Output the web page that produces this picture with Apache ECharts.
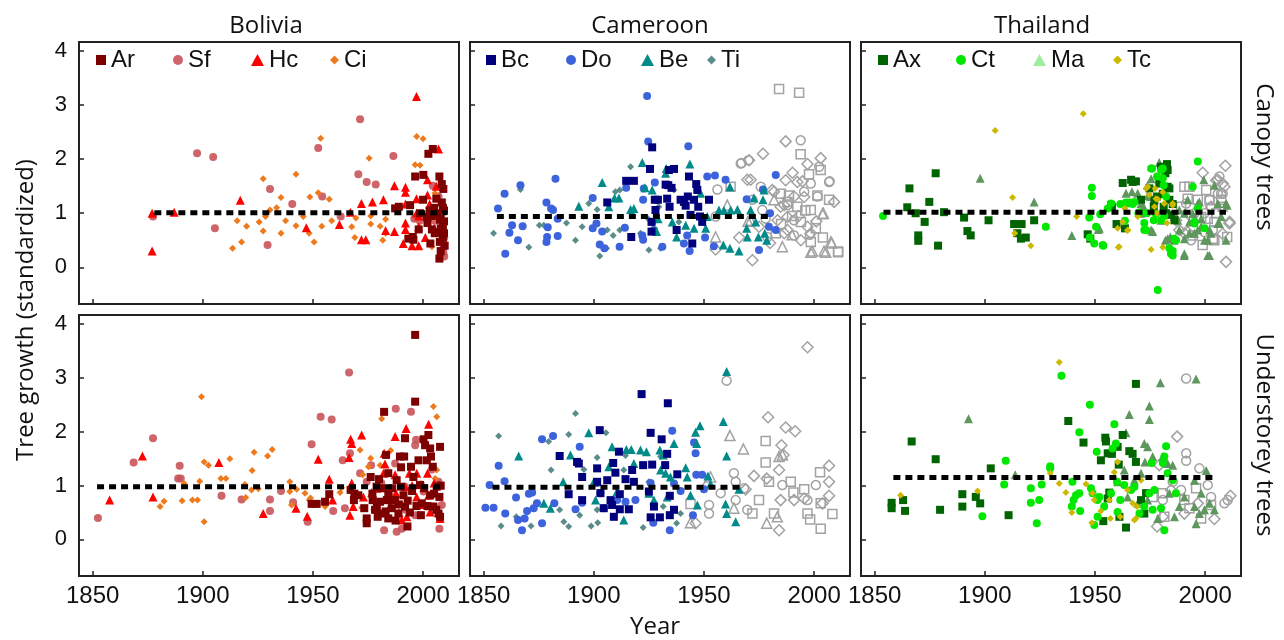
<!DOCTYPE html>
<html>
<head>
<meta charset="utf-8">
<script src="https://cdn.jsdelivr.net/npm/echarts@6/dist/echarts.min.js"></script>
<style>
html, body {margin: 0; padding: 0; background: #fff;}
#main {width: 1284px; height: 640px;}
</style>
</head>
<body>
<div id="main"></div>
<script>
// panel layout: 3 sites (columns) x 2 tree classes (rows)
const sites = ['Bolivia', 'Cameroon', 'Thailand'];
const rows = ['Canopy trees', 'Understorey trees'];
const yearTicks = [1850, 1900, 1950, 2000];
const growthTicks = [0, 1, 2, 3, 4];

// ---- Bolivia, canopy ----
const bolCanAr = [[1996.4,1.68],[2000.1,1.71],[2002.4,2.10],[2004.4,2.19],[2007.4,1.68],[2008.5,1.54],[2009.2,1.45],[1987.3,1.09],[1994.1,1.15],[2000,1.25],[1995.6,0.51],[1993.3,0.53],[2004,0.70],[2003.3,0.44],[2007.4,0.16],[2009,0.77],[2009,1.10],[2007.7,0.88],[1998.6,1.0],[2001.7,0.93],[2005.3,0.63],[1998,0.70],[2007.6,0.47],[2009.5,0.63],[1989,1.12],[2003,1.05],[2006,1.27],[2009.5,1.05],[2008,0.30],[2002,0.82],[1995.3,0.56],[2008,0.9],[2009.5,0.85],[2008.5,1.2],[2006.5,1.0],[2009,0.55],[2007,0.65],[2005,1.1],[2004,0.95],[2008,0.72],[2009.8,0.4]];
const bolCanSf = [[1877.4,0.94],[1897.4,2.11],[1904.7,2.04],[1905.5,0.72],[1930.5,1.45],[1929.4,0.41],[1940.6,1.17],[1952.4,2.21],[1954.2,1.31],[1971.4,2.74],[1970.6,1.72],[1974.4,1.58],[1978.5,1.53],[1986.5,2.06],[1962.6,0.94],[2004.4,1.51],[2005.4,0.86],[2009.2,0.45],[2009.2,0.27],[2009.2,0.35],[2007,1.31],[1998.5,0.86],[1996,0.9],[2009.6,0.55],[2009.6,0.20],[2008.8,0.66]];
const bolCanHc = [[1877,1.0],[1877,0.30],[1887,1.02],[1917,1.24],[1947,0.73],[1962,0.79],[1967,1.02],[1972,1.18],[1972,0.51],[1974,0.51],[1977,1.21],[1982,1.25],[1983,0.68],[1987,1.51],[1987,0.66],[1992,1.48],[1992,1.39],[1992,1.17],[1992,0.82],[1992,0.70],[1991,0.44],[1995,0.40],[1997,3.16],[1997,1.27],[1997,1.0],[1998,0.40],[1998,0.75],[1998,0.95],[2002,1.62],[2002,1.34],[2003,1.17],[2007,2.19],[2006,1.50],[2005,0.72],[2001,0.55]];
const bolCanCi = [[1913.5,0.35],[1917.6,0.47],[1915.6,0.86],[1919.9,0.76],[1925.6,0.84],[1927.4,1.64],[1927.4,0.67],[1928.5,0.94],[1930.5,1.06],[1933.5,1.10],[1935.5,1.29],[1935.5,0.63],[1937.6,0.86],[1942.3,1.72],[1942.3,0.77],[1945.6,0.94],[1948.6,1.30],[1948.3,0.63],[1950.5,0.47],[1952.4,1.38],[1953.5,2.39],[1954,0.76],[1957.4,1.26],[1958.5,0.86],[1967.6,0.75],[1969,0.55],[1969.5,0.91],[1975.5,2.02],[1976.2,0.80],[1976.2,0.95],[1980.5,0.76],[1981.7,0.50],[1983,0.89],[1983,0.63],[1996.4,1.90],[1998.6,1.89],[1997.1,2.42],[2000,2.38],[2005.4,1.37],[2006.3,1.30],[2004,0.38],[2003.3,0.88]];
const bolCanMean = [[1878,1.01],[2011,1.01]];

// ---- Bolivia, understorey ----
const bolUndAr = [[1949.4,0.66],[1951.7,0.66],[1955.5,0.70],[1957.4,0.84],[1967.1,0.92],[1968.6,0.73],[1968.8,0.85],[1970.6,0.82],[1974.4,0.39],[1974.4,0.30],[1973.3,0.58],[1976.2,1.16],[1977.1,0.73],[1978.2,0.55],[1978.9,0.98],[1979.4,0.42],[1980.5,0.70],[1981.2,0.48],[1982.3,2.37],[1983.2,1.57],[1983.5,0.73],[1984.2,1.23],[1984.2,0.86],[1984.2,0.39],[1985.8,0.58],[1985,0.73],[1987.3,0.73],[1988.8,0.48],[1989.5,1.54],[1990,1.34],[1991.4,1.54],[1991.8,1.88],[1991.1,0.82],[1991.8,0.61],[1992.9,0.24],[1994.5,1.35],[1995.6,1.16],[1996.4,2.56],[1996.4,3.80],[1997.9,1.47],[1998.6,1.01],[1999.4,0.67],[2000.2,1.86],[2000.9,1.75],[2001.7,1.47],[2002.4,1.94],[2003.2,1.69],[2003.6,1.54],[2004.4,1.35],[2003.2,0.82],[2004.7,0.61],[2006.2,0.98],[2007,0.48],[2007.7,1.72],[2007.4,0.79],[2007.7,0.42],[1977,0.85],[1979,0.62],[1981,0.95],[1983,0.52],[1986,0.95],[1987.5,0.35],[1989,0.65],[1990,0.98],[1993,0.72],[1994,0.5],[1995,0.9],[1997,0.62],[1999,0.45],[2000.5,0.95],[2002,0.62],[2005,0.85],[2006,0.55],[2008,1.0],[1988,1.1],[1980,1.12]];
const bolUndSf = [[1852.4,0.40],[1868.6,1.43],[1877.4,1.88],[1889.5,1.37],[1888.8,1.13],[1890,1.13],[1908.5,0.81],[1917.6,0.74],[1930.5,0.74],[1930.5,0.53],[1935.5,0.90],[1941,0.69],[1947.6,0.33],[1949.4,1.77],[1953.5,2.28],[1958.5,2.23],[1959.2,0.53],[1963.5,1.47],[1964.5,0.58],[1966.4,3.10],[1966.8,1.60],[1971.4,1.23],[1974.4,1.07],[1976.4,1.38],[1982.3,0.17],[1987.6,2.43],[1988,0.14],[1990.3,0.20],[1987.3,1.41],[1991.8,0.98],[1994.5,2.37],[1996.8,1.85],[1996.4,1.75],[1996.4,0.45],[1998.3,0.45],[2001.7,0.61],[2004.7,0.61],[2007.4,0.20],[2008.5,0.64],[2007,1.07],[2000.2,0.89],[1978,0.55],[1985,0.8],[1992,0.55],[1999,1.02],[2004,1.3],[1981,1.05]];
const bolUndHc = [[1857.7,0.73],[1872.6,1.55],[1877.4,0.79],[1907.3,1.43],[1927.4,0.48],[1942.3,0.58],[1947.4,0.43],[1952.4,1.49],[1957.4,1.12],[1958.9,0.73],[1967.1,1.86],[1967.6,1.78],[1966.4,1.52],[1967.6,1.05],[1966.8,0.45],[1968.3,0.61],[1972.1,1.94],[1972.9,0.79],[1976.7,0.87],[1982.3,1.60],[1982.7,1.40],[1982,1.23],[1987.3,1.91],[1987.3,1.20],[1987.7,0.86],[1990.3,0.36],[1992.3,2.06],[1992.6,0.42],[1993.8,1.23],[1997.1,1.23],[1997.1,0.79],[2002.5,2.14],[2002,1.23],[2002.5,0.82],[2003.2,0.51],[2007.4,1.01],[2007.7,0.39],[1991.8,0.98],[1979,0.95],[1985,0.62],[1995,1.0],[2000,0.65],[2005,1.05],[1989,0.5]];
const bolUndCi = [[1880.6,0.61],[1882.4,0.71],[1890.6,0.72],[1891.5,1.04],[1895.3,0.73],[1897.6,0.73],[1898.6,1.08],[1899.4,2.65],[1900.6,1.44],[1902.6,1.38],[1900.6,0.33],[1908.2,1.13],[1910.5,1.13],[1912.3,1.50],[1919.1,1.02],[1919.5,0.78],[1922.4,1.28],[1923.3,1.62],[1922.1,0.92],[1925.2,0.94],[1929.4,1.55],[1931.5,1.67],[1939.5,1.07],[1939.5,0.89],[1940.3,0.64],[1942.6,0.93],[1946.4,0.86],[1948.3,0.73],[1948.9,0.77],[1955.5,0.61],[1962.3,0.87],[1963,0.96],[1971.4,1.66],[1972.6,1.20],[1972.1,0.59],[1975.2,1.35],[1976.2,1.51],[1981.2,2.24],[1980.5,1.38],[1985.3,1.65],[1985.8,0.73],[2004.7,2.47],[2006.2,2.28],[2006.2,1.29],[2005.5,1.13]];
const bolUndMean = [[1852,0.98],[2009,0.98]];

// ---- Cameroon, canopy ----
const camCanBc = [[1906.1,1.20],[1914.7,1.60],[1918.2,1.60],[1917,0.56],[1925.5,1.82],[1926.5,2.22],[1927.7,1.25],[1928,1.06],[1929.1,1.25],[1926.2,0.84],[1926.2,0.66],[1932.6,1.53],[1934.1,1.80],[1936.4,1.82],[1933.3,1.27],[1933.8,1.52],[1934.4,1.12],[1935.3,1.47],[1937.6,0.69],[1939.4,1.25],[1940.9,1.21],[1941.7,1.14],[1942.7,1.31],[1943.2,1.68],[1945.5,1.25],[1946.5,1.54],[1947,1.43],[1944.7,0.44],[1947.4,1.12],[1952.3,1.25],[1949.2,0.84],[1948.2,0.94],[1943.9,0.97]];
const camCanDo = [[1856.5,1.09],[1859.5,1.36],[1859.8,0.25],[1861.7,0.64],[1862.9,0.78],[1866.7,1.52],[1865.6,0.50],[1867.7,0.76],[1878.5,1.20],[1879.1,0.74],[1878.8,0.56],[1878.5,0.47],[1880.6,1.09],[1881.5,1.06],[1882.6,1.64],[1883.6,0.90],[1883.6,0.58],[1899.5,1.28],[1899.5,0.72],[1901.2,0.81],[1902.7,0.42],[1903.8,0.66],[1904.8,0.35],[1911.7,0.38],[1914.1,0.73],[1914.7,1.47],[1922.4,1.25],[1922.7,1.46],[1922,0.59],[1922.4,0.51],[1924.2,3.17],[1924.7,2.33],[1927.7,1.57],[1926.5,0.84],[1927.3,0.69],[1931.1,0.38],[1942.9,2.24],[1942.4,0.59],[1943.5,0.30],[1940.9,0.44],[1951.5,1.68],[1955,1.70],[1959.8,1.62],[1954.5,0.39],[1950.5,0.55],[1969.4,1.26],[1975,0.32],[1976.8,1.44],[1982.6,1.71],[1979.5,0.75],[1982.6,0.69],[1980,1.0]];
const camCanBe = [[1893.2,1.13],[1903.8,1.57],[1906.8,1.12],[1909.4,1.28],[1911.4,1.28],[1916.7,1.07],[1918.2,1.09],[1922,1.94],[1923.2,1.47],[1926.5,1.43],[1928.5,0.66],[1929.2,0.90],[1932.6,1.74],[1932.9,1.83],[1935.6,0.84],[1937.6,0.56],[1941.7,0.78],[1943.6,1.91],[1945.5,0.72],[1948.5,1.37],[1950.8,0.72],[1951.5,0.94],[1956.8,1.06],[1959.1,1.05],[1961.8,1.49],[1962.1,1.06],[1965.2,1.07],[1958.8,0.41],[1961.8,0.35],[1965.9,0.30],[1969.4,0.72],[1971.2,1.06],[1969.7,0.56],[1973.5,0.84],[1974.7,0.56],[1977.3,1.43],[1976.8,1.25],[1977.6,0.63],[1978.5,0.50],[1972.7,1.28]];
const camCanTi = [[1854.5,0.63],[1866.7,1.44],[1870.5,0.37],[1875.3,0.78],[1877.3,0.78],[1887.6,0.82],[1891.7,0.50],[1894.7,0.75],[1895.5,0.94],[1897.7,1.18],[1901.5,1.07],[1902.7,0.21],[1905.8,0.35],[1906.1,0.69],[1909.8,1.40],[1911.8,1.43],[1916.7,1.86],[1908.8,0.59],[1911.8,0.69],[1925,0.32],[1924.7,0.90],[1921.2,0.63],[1930.3,0.35],[1929.5,1.12],[1936.4,1.43],[1938.6,0.84]];
const camCanOpenSq = [[1984.1,3.30],[1993.2,3.23],[1993.9,2.09],[1962.1,1.49],[1997.7,1.72],[2003,1.80],[2006.8,1.25],[2010.9,0.29],[2000.8,0.72],[1987.9,1.21],[1982.6,0.63],[1990,0.95],[1996,1.05],[1985,0.80],[2004,0.55],[1984.9,1.36],[1988.6,1.33],[2001.5,1.33],[1992.4,1.12],[1998.5,1.06],[1994,0.84],[1998.5,0.47],[2010.9,0.28]];
const camCanOpenCi = [[1993.9,2.35],[1970.2,1.98],[1967.1,1.93],[1956.1,1.44],[2002.3,1.86],[2007.1,1.59],[1995.5,1.40],[1990.9,0.87],[1955.3,0.94],[2001.5,1.31],[1972,1.25],[1988,1.15],[1998,0.60],[1978,0.90],[1966.7,1.92],[1998.5,1.55],[2006.8,1.58],[1975.8,1.49],[1990.9,0.59],[1978.8,0.56],[1976.5,1.06]];
const camCanOpenDi = [[1987.1,2.33],[1976.8,2.10],[1990.2,1.75],[2003,2.02],[1997,1.91],[2009.1,1.21],[1972,0.13],[1998.5,0.63],[1990.9,1.31],[1984.8,1.12],[1969.7,1.62],[1994.7,1.59],[1986.4,0.63],[1955.3,0.33],[1981.8,1.40],[1975,0.75],[1993,0.95],[2001,0.85],[1980,0.45],[1966,0.55],[1970.5,1.98],[1987.1,1.61],[1992.4,1.58],[1971.2,1.62],[1981,1.43],[1995.5,1.30],[1986.4,1.15],[1987.9,0.93],[1983.4,0.87],[1997,0.75],[1987.9,0.69],[1994,0.50]];
const camCanOpenTr = [[2004.2,1.0],[2008,0.45],[2004.5,0.30],[1985.6,0.38],[1981.8,1.25],[1999.2,0.30],[1960.6,1.15],[1955.3,0.56],[1990,0.60],[1970,0.85],[2003.8,0.99],[1998.5,0.28],[2005.3,0.28],[2007.6,0.47],[1971.2,0.87]];
const camCanMean = [[1856,0.94],[1980,0.94]];

// ---- Cameroon, understorey ----
const camUndBc = [[1884.5,1.55],[1888.6,0.84],[1892.4,1.44],[1893.2,1.41],[1894.7,1.16],[1894.7,0.73],[1902.7,2.03],[1901.5,1.32],[1901.5,1.07],[1903,0.86],[1906.1,1.10],[1907.6,0.73],[1904.5,0.58],[1908.3,0.64],[1908.8,1.42],[1909.8,1.24],[1911.4,1.63],[1911.8,0.84],[1911.8,0.56],[1909.1,0.42],[1914.4,1.12],[1917.4,1.29],[1918.2,1.07],[1915.9,0.56],[1921.7,2.70],[1922.4,1.38],[1925,0.89],[1925.8,1.98],[1925.8,0.41],[1926.5,1.39],[1927.3,0.61],[1930,0.41],[1930.8,1.86],[1932.4,1.38],[1933.3,1.59],[1933.6,2.53],[1934.5,0.45],[1937.9,1.21],[1936.4,0.55],[1934.5,0.81]];
const camUndDo = [[1850.8,0.59],[1852.7,1.01],[1854.5,0.59],[1856.8,1.37],[1859.5,1.08],[1859.8,0.48],[1864.7,0.78],[1865.6,0.36],[1867.4,0.17],[1868.6,0.39],[1869.7,0.53],[1870.5,0.85],[1872,0.87],[1872.7,0.58],[1874.2,0.67],[1876.5,1.86],[1876.5,0.30],[1881.5,1.92],[1882.1,0.67],[1891.7,0.56],[1893.6,1.72],[1894.7,0.68],[1901.5,1.05],[1903,0.86],[1904.5,0.58],[1910.6,0.73],[1914.4,0.70],[1918.9,0.73],[1925.8,1.05],[1927,0.31],[1935.6,2.02],[1934.5,0.17],[1936.4,1.04],[1939.4,0.90],[1945.5,1.80],[1945,0.45],[1946.5,1.20],[1949.2,1.20],[1946.2,1.60],[1950,0.93]];
const camUndBe = [[1865.9,1.55],[1877.3,0.67],[1880.3,0.58],[1886.1,1.07],[1889.4,1.57],[1897.7,1.98],[1900,1.07],[1900.8,0.73],[1906.8,1.35],[1908.3,1.72],[1910.6,0.89],[1913.6,0.36],[1914.8,1.67],[1917,1.67],[1918.2,1.41],[1921.2,1.66],[1923.9,1.63],[1925,0.86],[1927.3,0.73],[1930,1.66],[1931.5,1.57],[1930.3,1.29],[1932.6,1.23],[1934.8,1.16],[1936.4,1.78],[1933.3,0.79],[1941.7,1.33],[1942.4,1.16],[1943.9,0.82],[1946.2,1.99],[1948.2,2.11],[1946.7,1.78],[1947,0.64],[1951.8,1.18],[1953,1.03],[1958.8,2.19],[1960.3,3.12],[1960.3,1.55],[1959.8,0.66],[1960.3,0.48],[1964.4,0.33],[1965.9,0.93]];
const camUndTi = [[1856.8,1.92],[1857.9,0.25],[1864.8,0.42],[1871.5,0.25],[1879.5,1.82],[1880.6,1.29],[1884.5,0.55],[1886.4,0.33],[1888.6,0.24],[1888.6,1.95],[1891.7,2.34],[1893.6,0.45],[1895.5,1.30],[1898.8,0.25],[1901.5,1.52],[1901.8,0.31],[1901.5,0.55],[1905.5,1.98],[1913.6,1.29],[1914.4,1.56],[1922.4,0.22],[1925,1.07],[1930.3,1.54],[1931.5,0.61],[1937.6,0.30],[1939.4,0.48]];
const camUndOpenSq = [[1978,1.83],[1978,1.43],[1990.6,0.87],[1989.4,1.07],[2002.7,1.25],[2003,0.20],[1995.5,0.93],[1997,0.48],[1998.2,0.37],[2003,0.67],[2008.3,0.47],[1979.5,1.07],[1981.8,0.48],[1972,0.48],[1975,0.73],[1943.9,0.66]];
const camUndOpenCi = [[1960.3,2.95],[1963.6,1.23],[1964.4,1.07],[1952.3,0.48],[1957.6,0.86],[1968.2,0.95],[1969.7,0.55],[1985.6,1.01],[2000.8,1.01],[1997,0.73],[1964.4,0.73],[1952.3,0.64]];
const camUndOpenDi = [[1997,3.57],[1979.1,2.27],[1987.1,2.08],[1991.4,2.01],[1985.2,1.75],[1986.1,1.57],[2006.8,1.37],[2006.8,1.07],[2006.8,0.81],[1984.1,0.17],[1972.7,1.18],[1984.1,1.29],[1978.5,1.13],[1968.9,0.93],[1984.8,0.73],[1990.9,0.73],[1995.5,0.76],[2003.8,0.67],[1946.2,0.30]];
const camUndOpenTr = [[1961.8,1.93],[1967.9,1.68],[1984.1,1.54],[1985.6,1.57],[1978.5,0.30],[1983.3,0.42],[1963.6,0.58],[1951.5,1.07],[1953,1.16],[1943.9,0.31]];
const camUndMean = [[1854,0.97],[1967,0.97]];

// ---- Thailand, canopy ----
const thaCanAx = [[1865.8,1.46],[1864.8,1.11],[1868.6,1.0],[1872.7,0.84],[1874.8,1.21],[1869.8,0.59],[1869.8,0.49],[1877.7,1.74],[1878.8,0.40],[1881.5,1.02],[1890.6,0.92],[1892.1,0.67],[1893.6,0.59],[1901.7,0.87],[1913.3,0.80],[1916.7,0.80],[1914.8,0.63],[1916.4,0.53],[1918.6,0.55],[1922.4,0.87],[1946.7,0.61],[1947.9,0.53],[1957.7,1.12],[1959.8,0.80],[1962.6,1.56],[1963.6,0.72],[1966.4,1.62],[1968.6,1.59],[1970.9,1.25],[1974.7,1.46],[1976.7,1.13],[1978.2,1.31],[1980,1.86],[1982.7,1.91],[1982,1.74],[1983,1.49],[1981.2,1.12],[1983.8,1.25],[1984.5,0.97],[1985.3,1.17],[1986.1,0.87],[1982.3,1.0],[1983,1.80],[1967.1,1.58],[1979.2,1.55],[1980.8,1.36],[1983.8,1.46],[1977,1.24],[1957.3,1.15]];
const thaCanCt = [[1853.8,0.95],[1927.7,0.75],[1948.6,1.47],[1948.6,1.32],[1947.4,0.92],[1947.7,0.55],[1949.7,0.44],[1953.8,0.40],[1955.8,1.09],[1952.4,0.98],[1957.3,1.18],[1961.5,1.17],[1964.1,1.20],[1963.6,0.86],[1965.6,1.20],[1967.1,1.17],[1969.7,1.0],[1972.4,0.82],[1973.2,0.69],[1975.9,1.83],[1978.2,1.68],[1978.5,-0.42],[1980,1.80],[1980.8,1.65],[1981.2,1.52],[1982.3,1.31],[1981.5,0.95],[1983.8,0.35],[1985.3,0.22],[1985.3,0.30],[1986.8,0.50],[1994.4,1.49],[1996.7,1.96],[1996.7,1.09],[1999.7,0.72],[1995.2,0.84],[1976.7,0.87],[1973.6,1.0],[1975.5,1.83],[1980.8,1.83],[1964.9,1.18],[1967.9,1.21],[1970.2,1.02],[1977.7,0.99],[1980,0.87],[1972.4,0.69],[1986,0.53],[1984.5,0.25],[1995.2,0.81],[1953.5,0.41],[1950.5,0.75]];
const thaCanMa = [[1897.9,1.65],[1922.4,1.21],[1939.5,0.59],[1951.5,0.70],[1964.1,1.37],[1966.8,1.40],[1969.4,1.37],[1972.1,1.12],[1973.9,1.52],[1975.2,1.31],[1976.2,0.66],[1979.2,1.94],[1980.8,1.37],[1982,0.50],[1984.2,0.56],[1985.8,0.50],[1990.6,0.22],[1992.1,1.25],[1992.9,0.63],[1995.2,0.63],[1996.7,0.69],[1997.4,1.21],[1999.4,1.62],[1999.7,0.50],[2002,0.22],[2002.7,0.63],[2004.2,1.52],[2005.8,1.18],[2006.5,0.81],[2007.3,0.94],[2009.5,0.50],[2010,1.15],[1998.2,0.90],[1988.3,0.69],[1986.8,0.94],[1990.6,1.0],[1970.9,1.0],[1980,0.87],[1975.5,1.64],[1970.9,1.18],[1974,1.33],[1983,1.49],[1996.7,1.18],[1987.6,0.87],[1992.9,0.84],[1998.2,0.75],[2002,0.69],[2005.8,0.81],[2009.5,1.18],[2001.2,0.50],[1990.6,0.53],[1983,0.53],[1975.5,0.69],[1952,0.72],[1990.6,0.25],[2001.2,0.22],[1994.4,0.99],[1988.3,1.06]];
const thaCanTc = [[1904.7,2.53],[1944.7,2.84],[1912.6,1.29],[1913.6,0.63],[1920.9,0.40],[1941.7,0.94],[1960.3,0.72],[1960.6,0.37],[1964.8,0.68],[1973.2,1.46],[1974.7,1.34],[1977,1.12],[1977.3,1.46],[1978.5,1.26],[1978.2,1.0],[1975.5,0.33],[1980.8,0.37],[1982.7,0.82],[1985.3,1.15],[1963.6,1.09],[1969.4,0.94],[1974,1.49],[1980.8,1.39],[1977.7,1.27],[1981.5,1.18],[1985.3,1.18],[1962.6,0.84],[1964.9,0.69],[1961,0.38]];
const thaCanOpenSq = [[1990.6,1.49],[1992.9,1.49],[2007.3,1.25],[2010,0.56],[2005,1.0],[2001.2,0.90],[1996.7,1.25],[2004.2,0.50],[1989.1,1.12],[2000.5,1.43],[1992.1,1.27],[2002,1.24],[1998.2,0.93],[2004.2,0.84],[2008,1.12],[1994.4,0.59],[2003.5,0.53],[1998.9,0.41]];
const thaCanOpenCi = [[2006.5,1.68],[2002,1.25],[2007.3,1.37],[1999.7,1.0],[2003.5,0.69],[1991.4,1.18],[1995.2,1.0],[2005.8,1.36],[2008,1.36],[2002.7,1.12],[1993.6,0.50],[1999.7,0.65]];
const thaCanOpenDi = [[2009.2,1.88],[1998.9,1.75],[2005.8,1.62],[2008.8,1.49],[2011.1,0.81],[2009.5,0.10],[1988.3,0.69],[1990.6,0.63],[1993.6,0.94],[2002.7,1.12],[1986.8,0.87],[2005,1.61],[2008,1.55],[2011.1,0.84],[1992.1,0.65],[2008,0.62]];
const thaCanMean = [[1854,1.02],[2009.5,1.02]];

// ---- Thailand, understorey ----
const thaUndAx = [[1857.7,0.68],[1857.7,0.58],[1862.9,0.73],[1863.8,0.53],[1866.8,1.82],[1877.7,1.49],[1879.7,0.55],[1889.8,0.84],[1889.8,0.61],[1895.9,0.79],[1897.9,0.67],[1902.7,1.32],[1910.8,0.45],[1937.9,2.20],[1944.8,1.80],[1952.7,1.47],[1953.8,0.34],[1954.7,1.89],[1955,1.82],[1955.8,1.60],[1957.7,1.59],[1956.5,0.87],[1960.3,1.72],[1960.8,1.39],[1961.1,0.42],[1962.6,1.94],[1964.1,0.22],[1965.6,1.64],[1967.1,1.59],[1968.6,2.89],[1968.6,1.44],[1970.9,0.73],[1973.2,0.86],[1955.8,0.76],[1972.4,0.48]];
const thaUndCt = [[1898.9,0.43],[1908.8,1.02],[1909.5,1.46],[1920.9,0.95],[1920.9,0.68],[1923.6,0.30],[1924.7,0.73],[1925.8,1.02],[1929.7,1.36],[1929.7,1.32],[1934.8,3.04],[1939.8,1.07],[1940.3,0.73],[1941.4,0.82],[1939.5,0.61],[1942.9,1.99],[1943.3,0.53],[1942.9,0.86],[1947.7,2.50],[1948.2,0.95],[1948.9,0.86],[1949.7,0.27],[1950.8,1.63],[1951.2,0.73],[1952,0.79],[1951.2,0.42],[1954.2,0.61],[1957.3,0.86],[1958,1.69],[1958.8,2.14],[1959.5,1.78],[1960,1.07],[1960.3,0.51],[1961.5,0.73],[1963.3,1.01],[1966.4,0.92],[1967.9,0.98],[1970.2,0.48],[1972.4,0.61],[1974.7,0.86],[1976.2,0.55],[1975.8,1.42],[1980.8,1.42],[1982.3,1.73],[1981.5,0.17],[1981.5,1.54],[1983,1.23],[1985.3,1.10],[1986.8,0.86],[1980,0.58],[1977,0.92]];
const thaUndMa = [[1892.6,2.24],[1913.8,1.20],[1964.1,1.98],[1965.6,2.32],[1974.7,2.48],[1974.7,2.23],[1979.7,2.91],[1995.9,2.98],[1972.4,1.78],[1973.9,1.72],[1972.7,1.44],[1976.2,1.54],[1980.8,1.54],[1983,1.41],[1985.3,1.38],[2000.5,1.28],[1995.2,1.10],[1998.2,0.86],[1995.2,0.61],[1995.9,0.29],[1999.7,0.55],[2004.2,0.55],[1990.6,0.79],[1988.3,0.61],[1986.1,0.42],[1964.8,0.79],[1967.9,1.10],[1969.4,0.67],[1970.9,1.23],[1973.9,0.73],[1978.5,0.39],[2002,0.67],[1997.4,0.48],[1960.3,1.07],[1963.3,1.29],[1983.8,0.86]];
const thaUndTc = [[1861.8,0.82],[1896.7,0.90],[1929.7,1.23],[1933.8,3.29],[1933.8,1.04],[1936.8,0.87],[1939.5,0.50],[1945.9,1.03],[1948.9,0.86],[1949.7,0.73],[1948.6,0.31],[1952.7,0.53],[1956.5,0.73],[1957,0.39],[1958.8,1.25],[1960.3,1.44],[1961.5,0.42],[1964.8,0.92],[1967.9,0.36],[1968.6,0.39],[1969.1,0.61],[1970.9,1.10],[1967.1,0.67]];
const thaUndOpenSq = [[1995.9,0.95],[1998.2,0.39],[1980.8,0.86],[1990.6,0.73],[1992.9,0.58],[1976.2,0.79],[2002.7,0.64],[1981.5,0.42]];
const thaUndOpenCi = [[1991.4,2.99],[1991.4,1.60],[1991.4,1.46],[1997.4,1.32],[2001.2,1.01],[2002.7,0.79],[2008.8,0.67],[2010.3,0.73],[1980.8,0.73],[1985.3,1.07],[1989.1,0.92]];
const thaUndOpenDi = [[1987.3,1.91],[2011.5,0.81],[2004.2,0.38],[1978.2,0.24],[1980.8,0.42],[1984.5,0.92],[1990.6,0.48],[1996.7,0.67],[1979.2,1.38]];
const thaUndMean = [[1858.5,1.15],[2005,1.15]];

const C = {
    Ar: '#7c0000', Sf: 'rgba(200,84,90,0.9)', Hc: '#ff0000', Ci: '#ee7a1e',
    Bc: '#00007c', Do: '#3d63dc', Be: '#008a8a', Ti: '#5a8c8a',
    Ax: '#006400', Ct: '#00e800', Ma: '#5e965e', Tc: '#cdb800',
    open: '#a2a2a2', ink: '#111'
};
const tickFont = 'Liberation Sans';
const textFont = 'Open Sans';

/* one scatter series drawn on panel g */
function pts(name, data, g, symbol, size, color){
    return {
        type: 'scatter', name: name, xAxisIndex: g, yAxisIndex: g,
        data: data, symbol: symbol, symbolSize: size,
        itemStyle: {color: color, opacity: 1}, z: 2
    };
}
/* grey open symbols */
function openPts(data, g, symbol, size){
    return {
        type: 'scatter', name: 'other', xAxisIndex: g, yAxisIndex: g,
        data: data, symbol: symbol, symbolSize: size,
        itemStyle: {color: 'rgba(255,255,255,0)', borderColor: C.open, borderWidth: 1.5, opacity: 1}, z: 1
    };
}
/* thick dotted mean line */
function meanLine(data, g){
    return {
        type: 'line', xAxisIndex: g, yAxisIndex: g, data: data,
        symbol: 'none', silent: true, z: 5,
        lineStyle: {color: '#000', width: 5, type: [7, 5]}
    };
}
/* a single legend entry at a fixed spot */
function leg(name, icon, left, w, h, color){
    let item = {name: name, icon: icon};
    if (color) item.itemStyle = {color: color};
    return {
        left: left, top: 48, padding: 0, itemGap: 0,
        itemWidth: w, itemHeight: h, selectedMode: false,
        data: [item],
        textStyle: {fontSize: 24, fontFamily: tickFont, color: C.ink}
    };
}

let gridLefts = [79, 470, 861];
let gridTops = [42, 315];
let grids = [], xAxes = [], yAxes = [];
for (let r = 0; r < 2; r++){
    for (let c = 0; c < 3; c++){
        let g = r * 3 + c;
        grids.push({
            left: gridLefts[c], top: gridTops[r], width: 380, height: r === 0 ? 262 : 261,
            show: true, borderColor: '#222', borderWidth: 2, backgroundColor: 'transparent'
        });
        xAxes.push({
            gridIndex: g, type: 'value', min: 1843.8, max: 2016.3,
            axisLine: {show: false, onZero: false}, splitLine: {show: false},
            axisTick: {inside: true, length: 5, customValues: yearTicks, lineStyle: {color: '#222', width: 1.5}},
            axisLabel: {
                show: r === 1, customValues: yearTicks, fontSize: 24, fontFamily: tickFont,
                color: C.ink, margin: 8, formatter: v => String(v)
            }
        });
        yAxes.push({
            gridIndex: g, type: 'value', min: -0.68, max: 4.17,
            axisLine: {show: false, onZero: false}, splitLine: {show: false},
            axisTick: {inside: true, length: 5, customValues: growthTicks, lineStyle: {color: '#222', width: 1.5}},
            axisLabel: {show: c === 0, customValues: growthTicks, fontSize: 22, fontFamily: tickFont, color: C.ink, margin: 12}
        });
    }
}

let series = [
    // Bolivia canopy
    pts('Sf', bolCanSf, 0, 'circle', 8, C.Sf),
    pts('Ci', bolCanCi, 0, 'diamond', 7, C.Ci),
    pts('Hc', bolCanHc, 0, 'triangle', 9, C.Hc),
    pts('Ar', bolCanAr, 0, 'rect', 8, C.Ar),
    meanLine(bolCanMean, 0),
    // Cameroon canopy
    openPts(camCanOpenSq, 1, 'rect', 9),
    openPts(camCanOpenCi, 1, 'circle', 9),
    openPts(camCanOpenDi, 1, 'diamond', 11),
    openPts(camCanOpenTr, 1, 'triangle', 10),
    pts('Ti', camCanTi, 1, 'diamond', 7, C.Ti),
    pts('Do', camCanDo, 1, 'circle', 8, C.Do),
    pts('Be', camCanBe, 1, 'triangle', 9, C.Be),
    pts('Bc', camCanBc, 1, 'rect', 8, C.Bc),
    meanLine(camCanMean, 1),
    // Thailand canopy
    openPts(thaCanOpenSq, 2, 'rect', 9),
    openPts(thaCanOpenCi, 2, 'circle', 9),
    openPts(thaCanOpenDi, 2, 'diamond', 11),
    pts('Ma', thaCanMa, 2, 'triangle', 9, C.Ma),
    pts('Ax', thaCanAx, 2, 'rect', 8, C.Ax),
    pts('Ct', thaCanCt, 2, 'circle', 8, C.Ct),
    pts('Tc', thaCanTc, 2, 'diamond', 7, C.Tc),
    meanLine(thaCanMean, 2),
    // Bolivia understorey
    pts('Sf', bolUndSf, 3, 'circle', 8, C.Sf),
    pts('Ci', bolUndCi, 3, 'diamond', 7, C.Ci),
    pts('Hc', bolUndHc, 3, 'triangle', 9, C.Hc),
    pts('Ar', bolUndAr, 3, 'rect', 8, C.Ar),
    meanLine(bolUndMean, 3),
    // Cameroon understorey
    openPts(camUndOpenSq, 4, 'rect', 9),
    openPts(camUndOpenCi, 4, 'circle', 9),
    openPts(camUndOpenDi, 4, 'diamond', 11),
    openPts(camUndOpenTr, 4, 'triangle', 10),
    pts('Ti', camUndTi, 4, 'diamond', 7, C.Ti),
    pts('Do', camUndDo, 4, 'circle', 8, C.Do),
    pts('Be', camUndBe, 4, 'triangle', 9, C.Be),
    pts('Bc', camUndBc, 4, 'rect', 8, C.Bc),
    meanLine(camUndMean, 4),
    // Thailand understorey
    openPts(thaUndOpenSq, 5, 'rect', 9),
    openPts(thaUndOpenCi, 5, 'circle', 9),
    openPts(thaUndOpenDi, 5, 'diamond', 11),
    pts('Ma', thaUndMa, 5, 'triangle', 9, C.Ma),
    pts('Ax', thaUndAx, 5, 'rect', 8, C.Ax),
    pts('Ct', thaUndCt, 5, 'circle', 8, C.Ct),
    pts('Tc', thaUndTc, 5, 'diamond', 7, C.Tc),
    meanLine(thaUndMean, 5)
];

let legends = [
    leg('Ar', 'rect', 96, 10, 10), leg('Sf', 'circle', 173, 10, 10),
    leg('Hc', 'triangle', 251, 13, 12), leg('Ci', 'diamond', 330, 9, 9),
    leg('Bc', 'rect', 486, 10, 10), leg('Do', 'circle', 566, 10, 10),
    leg('Be', 'triangle', 641, 13, 12), leg('Ti', 'diamond', 707, 9, 9),
    leg('Ax', 'rect', 878, 10, 10), leg('Ct', 'circle', 956, 10, 10),
    leg('Ma', 'triangle', 1033, 13, 12, '#9cee9c'), leg('Tc', 'diamond', 1113, 9, 9)
];

let titleCenters = [261, 645, 1037];
let titles = sites.map((s, i) => ({
    text: s, left: titleCenters[i], top: 9, textAlign: 'center',
    textStyle: {fontSize: 24, fontWeight: 'normal', fontFamily: textFont, color: C.ink}
}));

let labelStyle = {font: '24px "Open Sans"', fill: C.ink, align: 'center', verticalAlign: 'middle'};
let option = {
    animation: false,
    title: titles,
    legend: legends,
    grid: grids,
    xAxis: xAxes,
    yAxis: yAxes,
    series: series,
    graphic: [
        {type: 'text', x: 26, y: 310, rotation: Math.PI / 2, style: Object.assign({text: 'Tree growth (standardized)'}, labelStyle)},
        {type: 'text', x: 655, y: 627, style: Object.assign({text: 'Year'}, labelStyle)},
        {type: 'text', x: 1264, y: 157, rotation: -Math.PI / 2, style: Object.assign({text: rows[0]}, labelStyle)},
        {type: 'text', x: 1264, y: 435, rotation: -Math.PI / 2, style: Object.assign({text: rows[1]}, labelStyle)}
    ]
};

let chart = echarts.init(document.getElementById('main'));
chart.setOption(option);
</script>
</body>
</html>
